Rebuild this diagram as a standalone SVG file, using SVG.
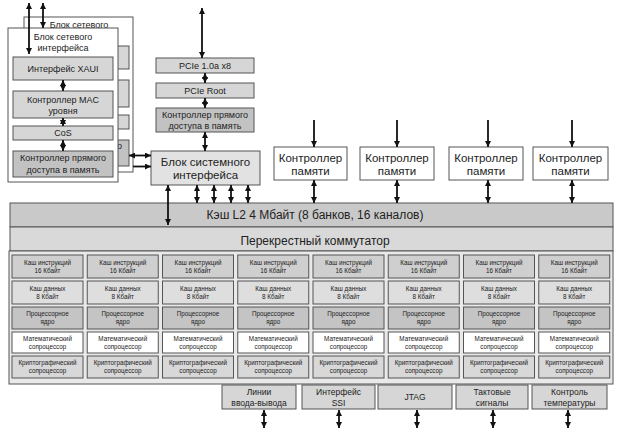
<svg xmlns="http://www.w3.org/2000/svg" width="620" height="446" viewBox="0 0 620 446">
<defs>
<marker id="ah" viewBox="0 0 10 10" refX="10" refY="5" markerWidth="6" markerHeight="6" markerUnits="userSpaceOnUse" orient="auto-start-reverse"><path d="M0,0 L10,5 L0,10 z" fill="#111"/></marker>
<style>
.t{font-family:"Liberation Sans",Arial,sans-serif;fill:#222;text-anchor:middle}
.s9{font-size:9px}.s11{font-size:11.5px}.s12{font-size:12px}.s7{font-size:6.3px}.s85{font-size:8.5px}
.box{stroke:#555;stroke-width:1}
.lg{fill:#d6d6d6}.dg{fill:#c2c2c2}.wh{fill:#fff}.vl{fill:#e2e2e2}
.c{stroke:#111;stroke-width:1.8;fill:none}
.d{marker-start:url(#ah);marker-end:url(#ah)}
.e{marker-end:url(#ah)}
.r1{fill:#cfcfcf}.r2{fill:#dedede}.r3{fill:#c4c4c4}.r4{fill:#fff}.r5{fill:#d8d8d8}
</style>
</defs>
<rect width="620" height="446" fill="#fff"/>

<g id="net-back">
<rect class="box wh" x="24" y="17" width="109" height="155"/>
<text class="t s9" x="79" y="28">Блок сетевого</text>
<rect class="box lg" x="29" y="46" width="100" height="23"/>
<rect class="box lg" x="29" y="80" width="100" height="27"/>
<rect class="box lg" x="29" y="115" width="100" height="14"/>
<rect class="box dg" x="29" y="140" width="100" height="26"/>
<text class="t s9" x="79" y="149">Контроллер прямого</text>
</g>

<g id="net-front">
<rect class="box wh" x="8" y="28" width="110" height="154"/>
<text class="t s9" x="63" y="40">Блок сетевого</text>
<text class="t s9" x="63" y="51">интерфейса</text>
<g id="xaui"><rect class="box lg" x="13" y="57" width="100" height="23"/><text class="t s9" x="63" y="72">Интерфейс XAUI</text></g>
<g id="mac"><rect class="box lg" x="13" y="91" width="100" height="27"/><text class="t s9" x="63" y="103">Контроллер MAC</text><text class="t s9" x="63" y="114">уровня</text></g>
<g id="cos"><rect class="box lg" x="13" y="126" width="100" height="14"/><text class="t s9" x="63" y="136">CoS</text></g>
<g id="net-dma"><rect class="box dg" x="13" y="151" width="100" height="26"/><text class="t s9" x="63" y="161">Контроллер прямого</text><text class="t s9" x="63" y="173">доступа в память</text></g>
</g>

<g id="pcie">
<rect class="box lg" x="156" y="58" width="98" height="15"/><text class="t s9" x="205" y="69">PCIe 1.0a x8</text>
</g>
<g id="pcie-root">
<rect class="box lg" x="156" y="83" width="98" height="15"/><text class="t s9" x="205" y="94">PCIe Root</text>
</g>
<g id="pcie-dma">
<rect class="box dg" x="156" y="108" width="98" height="24"/><text class="t s9" x="205" y="118">Контроллер прямого</text><text class="t s9" x="205" y="129">доступа в память</text>
</g>

<g id="sysif">
<rect class="box vl" x="151" y="151" width="109" height="34"/>
<text class="t s11" x="205.5" y="166">Блок системного</text>
<text class="t s11" x="205.5" y="179">интерфейса</text>
</g>

<g id="mc1"><rect class="box wh" x="274" y="147" width="73" height="33"/><text class="t s11" x="310.5" y="162">Контроллер</text><text class="t s11" x="310.5" y="175">памяти</text></g>
<g id="mc2"><rect class="box wh" x="360" y="147" width="74" height="33"/><text class="t s11" x="397" y="162">Контроллер</text><text class="t s11" x="397" y="175">памяти</text></g>
<g id="mc3"><rect class="box wh" x="449" y="147" width="74" height="33"/><text class="t s11" x="486" y="162">Контроллер</text><text class="t s11" x="486" y="175">памяти</text></g>
<g id="mc4"><rect class="box wh" x="533" y="147" width="75" height="33"/><text class="t s11" x="570.5" y="162">Контроллер</text><text class="t s11" x="570.5" y="175">памяти</text></g>

<g id="l2">
<rect class="box" fill="#c9c9c9" x="10" y="203" width="603" height="24"/>
<text class="t s12" x="315" y="219">Кэш L2 4 Мбайт (8 банков, 16 каналов)</text>
</g>
<g id="crossbar">
<rect class="box" fill="#d9d9d9" x="10" y="227" width="603" height="24"/>
<text class="t s12" x="315" y="245">Перекрестный коммутатор</text>
</g>

<g id="cores">
<rect class="box" fill="#e9e9e9" x="9" y="251" width="604" height="133"/>
</g>

<g id="io"><rect class="box lg" x="222" y="385" width="74" height="24"/><text class="t s85" x="259" y="395">Линии</text><text class="t s85" x="259" y="406">ввода-вывода</text></g>
<g id="ssi"><rect class="box lg" x="302" y="385" width="73" height="24"/><text class="t s85" x="338.5" y="395">Интерфейс</text><text class="t s85" x="338.5" y="406">SSI</text></g>
<g id="jtag"><rect class="box lg" x="378" y="385" width="74" height="24"/><text class="t s85" x="415" y="400">JTAG</text></g>
<g id="clk"><rect class="box lg" x="456" y="385" width="72" height="24"/><text class="t s85" x="492" y="395">Тактовые</text><text class="t s85" x="492" y="406">сигналы</text></g>
<g id="temp"><rect class="box lg" x="532" y="385" width="75" height="24"/><text class="t s85" x="569.5" y="395">Контроль</text><text class="t s85" x="569.5" y="406">температуры</text></g>

<g id="connectors">
<line class="c d" x1="29" y1="3" x2="29" y2="54"/>
<line class="c d" x1="43" y1="3" x2="43" y2="28"/>
<line class="c d" x1="63" y1="80" x2="63" y2="91"/>
<line class="c d" x1="63" y1="118" x2="63" y2="126"/>
<line class="c d" x1="63" y1="140" x2="63" y2="151"/>
<line class="c d" x1="129" y1="155.5" x2="151" y2="155.5"/>
<line class="c e" x1="133" y1="166.5" x2="151" y2="166.5"/>
<line class="c d" x1="202" y1="8" x2="202" y2="58"/>
<line class="c d" x1="205" y1="73" x2="205" y2="83"/>
<line class="c d" x1="205" y1="98" x2="205" y2="108"/>
<line class="c d" x1="205" y1="132" x2="205" y2="151"/>
<line class="c d" x1="168" y1="185" x2="168" y2="225"/>
<line class="c d" x1="197" y1="185" x2="197" y2="203"/>
<line class="c d" x1="214" y1="185" x2="214" y2="203"/>
<line class="c d" x1="231" y1="185" x2="231" y2="203"/>
<line class="c d" x1="248" y1="185" x2="248" y2="203"/>
<line class="c e" x1="314" y1="120" x2="314" y2="147"/>
<line class="c e" x1="397" y1="120" x2="397" y2="147"/>
<line class="c e" x1="488" y1="120" x2="488" y2="147"/>
<line class="c e" x1="572" y1="120" x2="572" y2="147"/>
<line class="c d" x1="314" y1="180" x2="314" y2="203"/>
<line class="c d" x1="397" y1="180" x2="397" y2="203"/>
<line class="c d" x1="488" y1="180" x2="488" y2="203"/>
<line class="c d" x1="572" y1="180" x2="572" y2="203"/>
<line class="c d" x1="264" y1="410" x2="264" y2="428"/>
<line class="c d" x1="339" y1="410" x2="339" y2="428"/>
<line class="c d" x1="417" y1="410" x2="417" y2="428"/>
<line class="c d" x1="493" y1="410" x2="493" y2="428"/>
<line class="c d" x1="568" y1="410" x2="568" y2="428"/>
</g>

<g id="core1" transform="translate(12,0)">
<rect class="box r1" x="0" y="255" width="71" height="23"/><text class="t s7" x="35.5" y="265">Каш инструкций</text><text class="t s7" x="35.5" y="273">16 Кбайт</text>
<rect class="box r2" x="0" y="281" width="71" height="23"/><text class="t s7" x="35.5" y="291">Каш данных</text><text class="t s7" x="35.5" y="299">8 Кбайт</text>
<rect class="box r3" x="0" y="307" width="71" height="22"/><text class="t s7" x="35.5" y="316">Процессорное</text><text class="t s7" x="35.5" y="324">ядро</text>
<rect class="box r4" x="0" y="332" width="71" height="21"/><text class="t s7" x="35.5" y="341">Математический</text><text class="t s7" x="35.5" y="349">сопроцессор</text>
<rect class="box r5" x="0" y="356" width="71" height="22"/><text class="t s7" x="35.5" y="365">Криптографический</text><text class="t s7" x="35.5" y="373">сопроцессор</text>
</g>
<g id="core2" transform="translate(87.25,0)">
<rect class="box r1" x="0" y="255" width="71" height="23"/><text class="t s7" x="35.5" y="265">Каш инструкций</text><text class="t s7" x="35.5" y="273">16 Кбайт</text>
<rect class="box r2" x="0" y="281" width="71" height="23"/><text class="t s7" x="35.5" y="291">Каш данных</text><text class="t s7" x="35.5" y="299">8 Кбайт</text>
<rect class="box r3" x="0" y="307" width="71" height="22"/><text class="t s7" x="35.5" y="316">Процессорное</text><text class="t s7" x="35.5" y="324">ядро</text>
<rect class="box r4" x="0" y="332" width="71" height="21"/><text class="t s7" x="35.5" y="341">Математический</text><text class="t s7" x="35.5" y="349">сопроцессор</text>
<rect class="box r5" x="0" y="356" width="71" height="22"/><text class="t s7" x="35.5" y="365">Криптографический</text><text class="t s7" x="35.5" y="373">сопроцессор</text>
</g>
<g id="core3" transform="translate(162.5,0)">
<rect class="box r1" x="0" y="255" width="71" height="23"/><text class="t s7" x="35.5" y="265">Каш инструкций</text><text class="t s7" x="35.5" y="273">16 Кбайт</text>
<rect class="box r2" x="0" y="281" width="71" height="23"/><text class="t s7" x="35.5" y="291">Каш данных</text><text class="t s7" x="35.5" y="299">8 Кбайт</text>
<rect class="box r3" x="0" y="307" width="71" height="22"/><text class="t s7" x="35.5" y="316">Процессорное</text><text class="t s7" x="35.5" y="324">ядро</text>
<rect class="box r4" x="0" y="332" width="71" height="21"/><text class="t s7" x="35.5" y="341">Математический</text><text class="t s7" x="35.5" y="349">сопроцессор</text>
<rect class="box r5" x="0" y="356" width="71" height="22"/><text class="t s7" x="35.5" y="365">Криптографический</text><text class="t s7" x="35.5" y="373">сопроцессор</text>
</g>
<g id="core4" transform="translate(237.75,0)">
<rect class="box r1" x="0" y="255" width="71" height="23"/><text class="t s7" x="35.5" y="265">Каш инструкций</text><text class="t s7" x="35.5" y="273">16 Кбайт</text>
<rect class="box r2" x="0" y="281" width="71" height="23"/><text class="t s7" x="35.5" y="291">Каш данных</text><text class="t s7" x="35.5" y="299">8 Кбайт</text>
<rect class="box r3" x="0" y="307" width="71" height="22"/><text class="t s7" x="35.5" y="316">Процессорное</text><text class="t s7" x="35.5" y="324">ядро</text>
<rect class="box r4" x="0" y="332" width="71" height="21"/><text class="t s7" x="35.5" y="341">Математический</text><text class="t s7" x="35.5" y="349">сопроцессор</text>
<rect class="box r5" x="0" y="356" width="71" height="22"/><text class="t s7" x="35.5" y="365">Криптографический</text><text class="t s7" x="35.5" y="373">сопроцессор</text>
</g>
<g id="core5" transform="translate(313,0)">
<rect class="box r1" x="0" y="255" width="71" height="23"/><text class="t s7" x="35.5" y="265">Каш инструкций</text><text class="t s7" x="35.5" y="273">16 Кбайт</text>
<rect class="box r2" x="0" y="281" width="71" height="23"/><text class="t s7" x="35.5" y="291">Каш данных</text><text class="t s7" x="35.5" y="299">8 Кбайт</text>
<rect class="box r3" x="0" y="307" width="71" height="22"/><text class="t s7" x="35.5" y="316">Процессорное</text><text class="t s7" x="35.5" y="324">ядро</text>
<rect class="box r4" x="0" y="332" width="71" height="21"/><text class="t s7" x="35.5" y="341">Математический</text><text class="t s7" x="35.5" y="349">сопроцессор</text>
<rect class="box r5" x="0" y="356" width="71" height="22"/><text class="t s7" x="35.5" y="365">Криптографический</text><text class="t s7" x="35.5" y="373">сопроцессор</text>
</g>
<g id="core6" transform="translate(388.25,0)">
<rect class="box r1" x="0" y="255" width="71" height="23"/><text class="t s7" x="35.5" y="265">Каш инструкций</text><text class="t s7" x="35.5" y="273">16 Кбайт</text>
<rect class="box r2" x="0" y="281" width="71" height="23"/><text class="t s7" x="35.5" y="291">Каш данных</text><text class="t s7" x="35.5" y="299">8 Кбайт</text>
<rect class="box r3" x="0" y="307" width="71" height="22"/><text class="t s7" x="35.5" y="316">Процессорное</text><text class="t s7" x="35.5" y="324">ядро</text>
<rect class="box r4" x="0" y="332" width="71" height="21"/><text class="t s7" x="35.5" y="341">Математический</text><text class="t s7" x="35.5" y="349">сопроцессор</text>
<rect class="box r5" x="0" y="356" width="71" height="22"/><text class="t s7" x="35.5" y="365">Криптографический</text><text class="t s7" x="35.5" y="373">сопроцессор</text>
</g>
<g id="core7" transform="translate(463.5,0)">
<rect class="box r1" x="0" y="255" width="71" height="23"/><text class="t s7" x="35.5" y="265">Каш инструкций</text><text class="t s7" x="35.5" y="273">16 Кбайт</text>
<rect class="box r2" x="0" y="281" width="71" height="23"/><text class="t s7" x="35.5" y="291">Каш данных</text><text class="t s7" x="35.5" y="299">8 Кбайт</text>
<rect class="box r3" x="0" y="307" width="71" height="22"/><text class="t s7" x="35.5" y="316">Процессорное</text><text class="t s7" x="35.5" y="324">ядро</text>
<rect class="box r4" x="0" y="332" width="71" height="21"/><text class="t s7" x="35.5" y="341">Математический</text><text class="t s7" x="35.5" y="349">сопроцессор</text>
<rect class="box r5" x="0" y="356" width="71" height="22"/><text class="t s7" x="35.5" y="365">Криптографический</text><text class="t s7" x="35.5" y="373">сопроцессор</text>
</g>
<g id="core8" transform="translate(538.75,0)">
<rect class="box r1" x="0" y="255" width="71" height="23"/><text class="t s7" x="35.5" y="265">Каш инструкций</text><text class="t s7" x="35.5" y="273">16 Кбайт</text>
<rect class="box r2" x="0" y="281" width="71" height="23"/><text class="t s7" x="35.5" y="291">Каш данных</text><text class="t s7" x="35.5" y="299">8 Кбайт</text>
<rect class="box r3" x="0" y="307" width="71" height="22"/><text class="t s7" x="35.5" y="316">Процессорное</text><text class="t s7" x="35.5" y="324">ядро</text>
<rect class="box r4" x="0" y="332" width="71" height="21"/><text class="t s7" x="35.5" y="341">Математический</text><text class="t s7" x="35.5" y="349">сопроцессор</text>
<rect class="box r5" x="0" y="356" width="71" height="22"/><text class="t s7" x="35.5" y="365">Криптографический</text><text class="t s7" x="35.5" y="373">сопроцессор</text>
</g>
</svg>
